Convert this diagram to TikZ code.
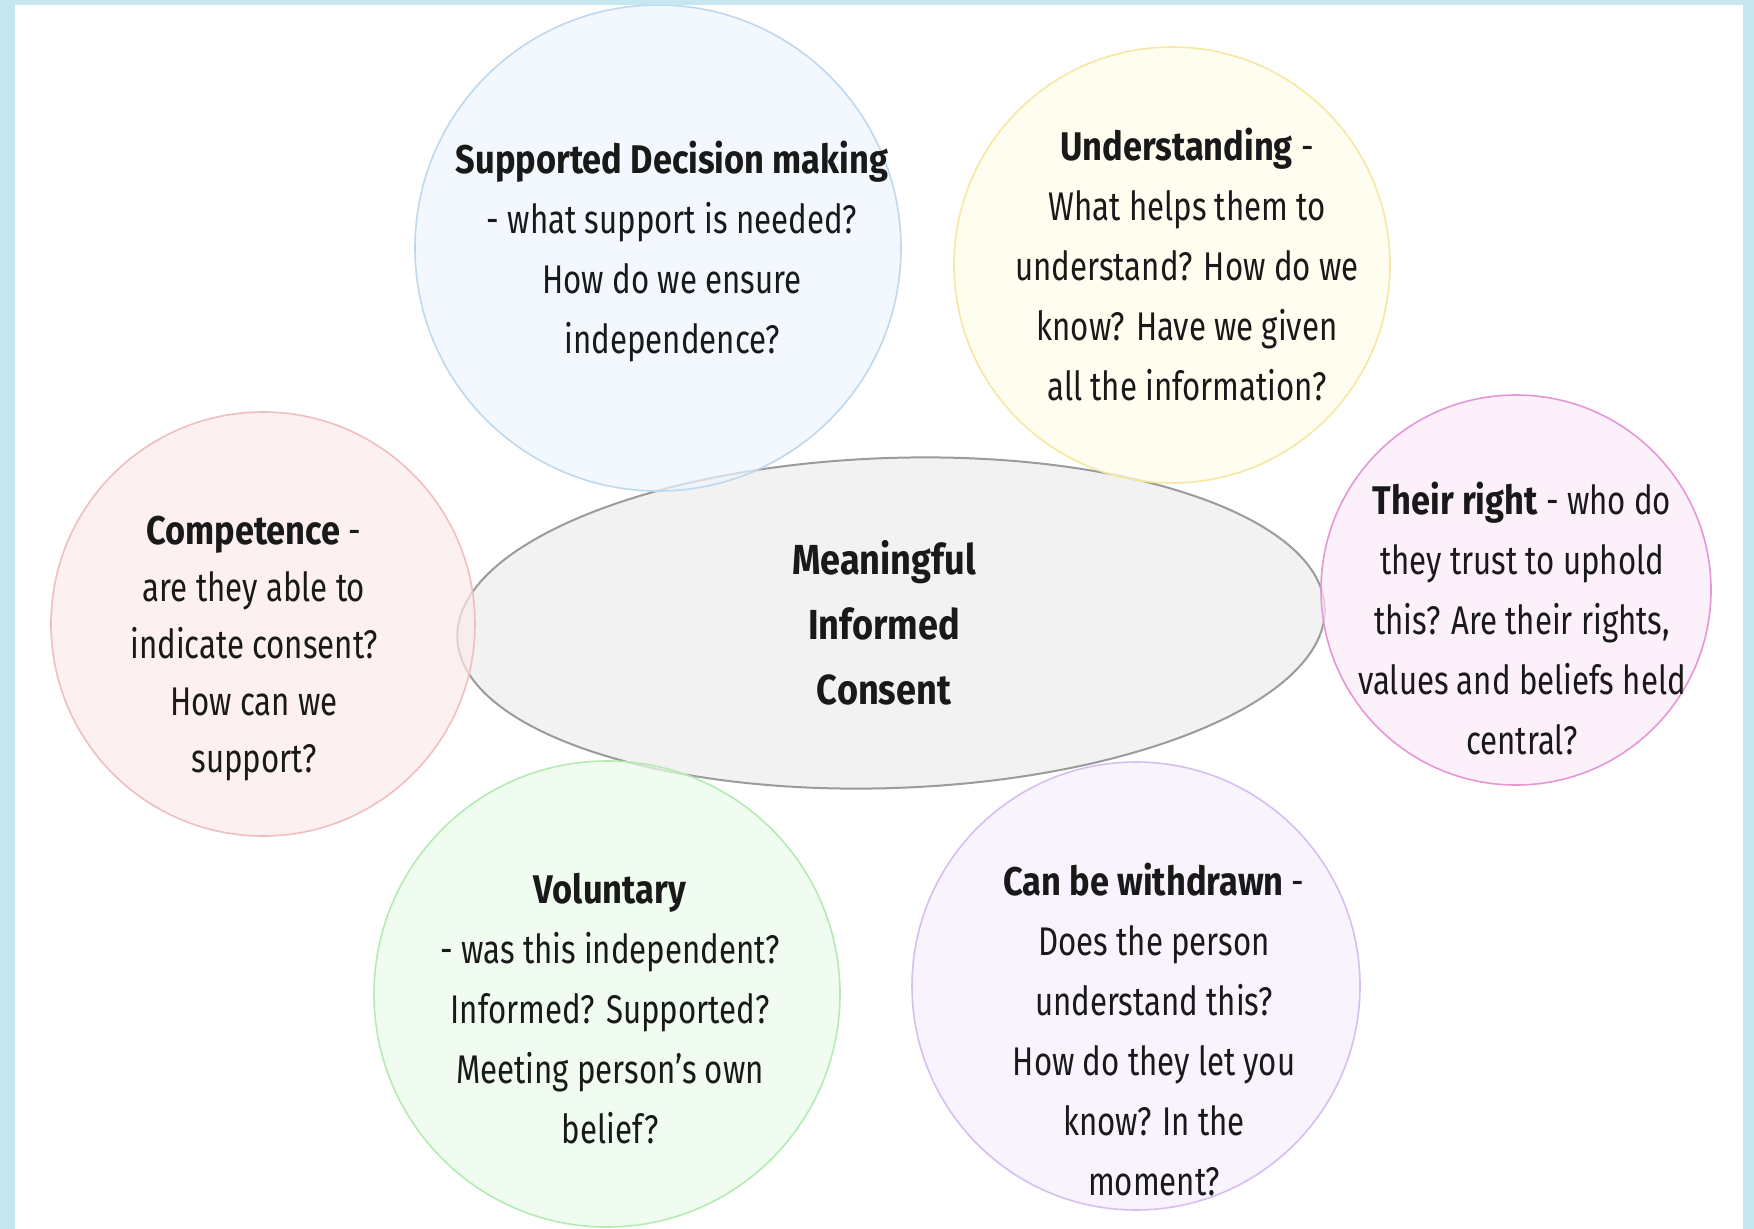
\documentclass[tikz,border=0pt]{standalone}
\usepackage{fontspec}
\setmainfont{Fira Sans}[FakeStretch=0.78, BoldFeatures={FakeStretch=0.86}]
\usetikzlibrary{shapes.geometric}

% frame and shape colours
\definecolor{frameblue}{RGB}{198,231,240}
\definecolor{inkc}{RGB}{25,25,25}
\definecolor{hubfill}{RGB}{242,242,242}
\definecolor{hubline}{RGB}{155,155,155}
\definecolor{bluefill}{RGB}{238,245,254}
\definecolor{blueline}{RGB}{190,216,240}
\definecolor{yelfill}{RGB}{255,252,234}
\definecolor{yelline}{RGB}{245,232,160}
\definecolor{pinkfill}{RGB}{252,234,248}
\definecolor{pinkline}{RGB}{230,150,215}
\definecolor{redfill}{RGB}{252,234,234}
\definecolor{redline}{RGB}{240,190,192}
\definecolor{greenfill}{RGB}{236,251,236}
\definecolor{greenline}{RGB}{180,235,178}
\definecolor{purpfill}{RGB}{246,238,252}
\definecolor{purpline}{RGB}{215,190,240}

\tikzset{
  bubble/.style={circle, inner sep=0pt, outer sep=0pt, line width=1.6pt, fill opacity=0.7, draw opacity=1},
  hub/.style={ellipse, inner sep=0pt, outer sep=0pt, line width=2pt, draw=hubline, fill=hubfill},
  label/.style={align=center, text=inkc, inner sep=0pt, font=\fontsize{40}{60}\selectfont},
  hublabel/.style={align=center, text=inkc, inner sep=0pt, font=\fontsize{42}{65}\selectfont\bfseries}
}

\begin{document}
\begin{tikzpicture}[x=1pt,y=-1pt]
\useasboundingbox (0,0) rectangle (1754,1229);
% page frame
\fill[frameblue] (0,0) rectangle (1754,1229);
\fill[white] (15,5) rectangle (1743,1229);

\begin{scope}
\clip (15,5) rectangle (1743,1229);
% central ellipse
\node[hub, minimum width=868pt, minimum height=330pt, rotate=2] (core) at (891,623) {};
% surrounding circles
\node[bubble, draw=blueline, fill=bluefill, minimum size=486pt] (sdm) at (658,248) {};
\node[bubble, draw=yelline, fill=yelfill, minimum size=436pt] (und) at (1172,265) {};
\node[bubble, draw=pinkline, fill=pinkfill, minimum size=390pt] (rig) at (1516,590) {};
\node[bubble, draw=redline, fill=redfill, minimum size=424pt] (com) at (263,624) {};
\node[bubble, draw=greenline, fill=greenfill, minimum size=466pt] (vol) at (607,994) {};
\node[bubble, draw=purpline, fill=purpfill, minimum size=448pt] (wit) at (1136,986) {};
\end{scope}

% texts
\node[hublabel] (coret) at (884,623) {Meaningful\\Informed\\Consent};
\node[label] (sdmt) at (672,252) {\textbf{Supported Decision making}\\- what support is needed?\\How do we ensure\\independence?};
\node[label] (undt) at (1187,265) {\textbf{Understanding} -\\What helps them to\\understand? How do we\\know? Have we given\\all the information?};
\node[label] (rigt) at (1522,619) {\textbf{Their right} - who do\\they trust to uphold\\this? Are their rights,\\values and beliefs held\\central?};
\node[label, font=\fontsize{40}{57}\selectfont] (comt) at (254,649) {\textbf{Competence} -\\are they able to\\indicate consent?\\How can we\\support?};
\node[label] (volt) at (610,1009) {\textbf{Voluntary}\\- was this independent?\\Informed? Supported?\\Meeting person’s own\\belief?};
\node[label] (witt) at (1154,1030) {\textbf{Can be withdrawn} -\\Does the person\\understand this?\\How do they let you\\know? In the\\moment?};
\end{tikzpicture}
\end{document}
